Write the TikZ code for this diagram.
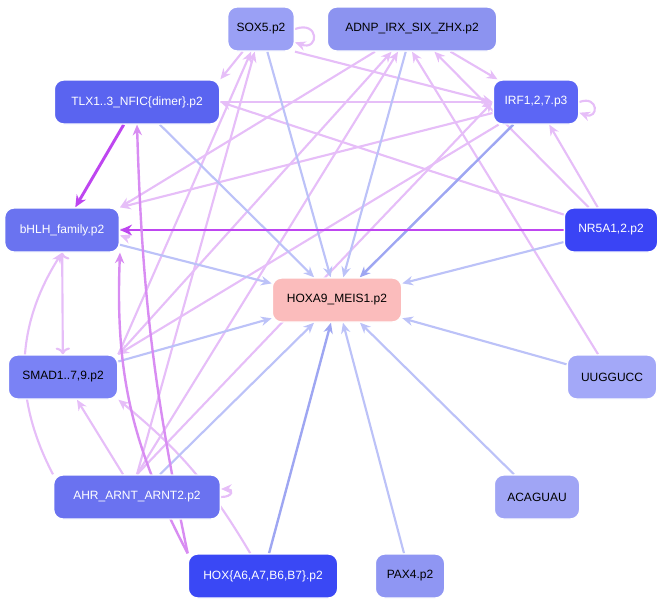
\documentclass[tikz,border=0pt]{standalone}
\usepackage{fontspec}
\setmainfont{Liberation Sans}
\usetikzlibrary{arrows.meta}
\pgfdeclarelayer{bg}
\pgfsetlayers{bg,main}
\definecolor{pl}{HTML}{E6BEF8}\definecolor{pmc}{HTML}{D88CF2}\definecolor{pdc}{HTML}{BE46F0}
\definecolor{bll}{HTML}{BCC2F8}\definecolor{bdd}{HTML}{9EA6F2}
\begin{document}
\begin{tikzpicture}[x=0.75pt,y=-0.75pt,
 nd/.style={rounded corners=7pt,draw=white,line width=1pt,font=\fontsize{9}{10}\selectfont,inner sep=0pt,minimum height=33pt},
 bl/.style={draw=bll,line width=1.6pt,-{Stealth[length=8pt,width=7pt]}},
 bd/.style={draw=bdd,line width=1.8pt,-{Stealth[length=8pt,width=7pt]}},
 pu/.style={draw=pl,line width=1.6pt,-{Stealth[length=8pt,width=7pt]}},
 pm/.style={draw=pmc,line width=1.8pt,-{Stealth[length=8pt,width=7pt]}},
 pd/.style={draw=pdc,line width=2.2pt,-{Stealth[length=9pt,width=8pt]}}]
\useasboundingbox (0,0) rectangle (665,608);
\definecolor{cA}{HTML}{9AA0F5}\definecolor{cB}{HTML}{8C93F0}\definecolor{cC}{HTML}{5A64F0}
\definecolor{cD}{HTML}{5C66F5}\definecolor{cE}{HTML}{6A73F0}\definecolor{cF}{HTML}{3A44F5}
\definecolor{cG}{HTML}{FBBCBC}\definecolor{cH}{HTML}{7A82F5}\definecolor{cI}{HTML}{A3A8F8}
\definecolor{cJ}{HTML}{6A72F0}\definecolor{cK}{HTML}{A0A5F5}\definecolor{cL}{HTML}{3A48F5}\definecolor{cM}{HTML}{8F96F3}
\node[nd,fill=cA,minimum width=50pt] (sox) at (261,29) {SOX5.p2};
\node[nd,fill=cB,minimum width=127pt] (adnp) at (412,29) {ADNP\_IRX\_SIX\_ZHX.p2};
\node[nd,fill=cC,text=white,minimum width=124pt] (tlx) at (137,102) {TLX1..3\_NFIC\{dimer\}.p2};
\node[nd,fill=cD,text=white,minimum width=64pt] (irf) at (536,102) {IRF1,2,7.p3};
\node[nd,fill=cE,text=white,minimum width=86pt] (bhlh) at (62,230) {bHLH\_family.p2};
\node[nd,fill=cF,text=white,minimum width=70pt] (nr5) at (611,230) {NR5A1,2.p2};
\node[nd,fill=cG,minimum width=97pt] (hox9) at (337,300) {HOXA9\_MEIS1.p2};
\node[nd,fill=cH,minimum width=82pt] (smad) at (63,377) {SMAD1..7,9.p2};
\node[nd,fill=cI,minimum width=67pt] (uug) at (612,377) {UUGGUCC};
\node[nd,fill=cJ,text=white,minimum width=125pt] (ahr) at (137,497) {AHR\_ARNT\_ARNT2.p2};
\node[nd,fill=cK,minimum width=64pt] (aca) at (537,497) {ACAGUAU};
\node[nd,fill=cL,text=white,minimum width=112pt] (hox) at (263,576) {HOX\{A6,A7,B6,B7\}.p2};
\node[nd,fill=cM,minimum width=52pt] (pax) at (410,576) {PAX4.p2};
\begin{pgfonlayer}{bg}
% purple
\draw[pu] (nr5) -- (tlx.east);
\draw[pu] (nr5) -- (adnp);
\draw[pu] (nr5) -- (irf);
\draw[pu] (uug) -- (adnp.south);
\draw[pu] (irf) -- (bhlh.north east);
\draw[pu] (irf) -- (smad.north east);
\draw[pu] (adnp) -- (irf);
\draw[pu] (sox.south east) -- (irf.west);
\draw[pu] (tlx) -- (irf);
\draw[pu] (sox) -- (tlx.north east);
\draw[pu] (adnp) -- (bhlh.north east);
\draw[pu] (smad.north east) -- (sox);
\draw[pu] (smad.north east) -- (adnp);
\draw[pu] (ahr.north) -- (adnp);
\draw[pu] (ahr.north) -- (sox);
\draw[pu] (ahr.north) -- (irf.west);
\draw[pu,<->] (bhlh) -- (smad);
\draw[pu] (ahr.north west) to[bend left=30] (bhlh.south);
\draw[pu] (ahr) -- (smad);
\draw[pu] (hox) to[bend right=10] (smad.south east);
\draw[pu] (ahr.east) to[out=0,in=0,looseness=4] ([yshift=6pt]ahr.east);
\draw[pu] (sox.east) to[out=20,in=-20,looseness=5] ([yshift=-10pt]sox.east);
\draw[pu] (irf.east) to[out=20,in=-20,looseness=5] ([yshift=-8pt]irf.east);
\draw[pu] (bhlh.east) to[out=20,in=-20,looseness=6] ([yshift=-4pt]bhlh.east);
% to HOXA9
\draw[bl] (sox) -- (hox9);
\draw[bl] (adnp) -- (hox9);
\draw[bl] (tlx) -- (hox9);
\draw[bd] (irf) -- (hox9);
\draw[bl] (bhlh) -- (hox9);
\draw[bl] (nr5) -- (hox9);
\draw[bl] (smad) -- (hox9);
\draw[bl] (uug) -- (hox9);
\draw[bl] (ahr) -- (hox9);
\draw[bl] (aca) -- (hox9);
\draw[bd] (hox) -- (hox9);
\draw[bl] (pax) -- (hox9);
\draw[pd] (nr5) -- (bhlh);
\draw[pd] (tlx) -- (bhlh);
\draw[pm] (hox.north west) to[bend left=5] (tlx.south);
\draw[pm] (hox.north west) to[bend left=15] (bhlh.south east);
\end{pgfonlayer}
\end{tikzpicture}
\end{document}
